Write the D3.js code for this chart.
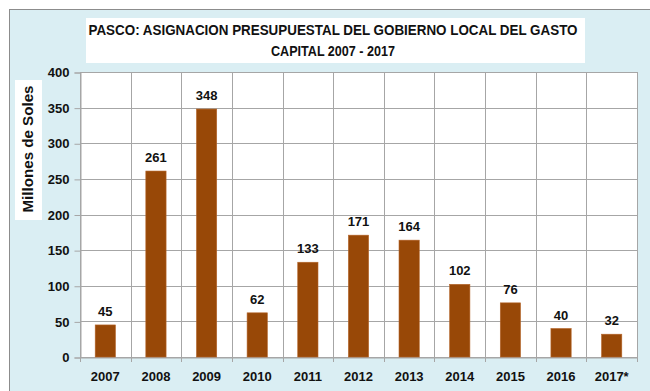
<!DOCTYPE html>
<html><head><meta charset="utf-8">
<script src="https://cdn.jsdelivr.net/npm/d3@7"></script>
<style>
html,body{margin:0;padding:0;background:#fff;}
svg{display:block;}
text{font-family:"Liberation Sans",Arial,sans-serif;font-weight:bold;fill:#111;}
</style></head>
<body>
<svg id="chart" width="650" height="391"></svg>
<script>
const years = ["2007","2008","2009","2010","2011","2012","2013","2014","2015","2016","2017*"];
const values = [45, 261, 348, 62, 133, 171, 164, 102, 76, 40, 32];
const yTicks = [0, 50, 100, 150, 200, 250, 300, 350, 400];
const titleLines = ["PASCO: ASIGNACION PRESUPUESTAL DEL GOBIERNO LOCAL DEL GASTO", "CAPITAL 2007 - 2017"];
const titleWidths = [489, 124];
const yTitle = "Millones de Soles";

const svg = d3.select("#chart");
const W = 650, H = 391;
const plot = {left: 80, top: 72, right: 637, bottom: 357};
const font = "Liberation Sans, Arial, sans-serif";

// panel background
svg.append("rect").attr("x", 9.5).attr("y", 9.5).attr("width", W).attr("height", H)
  .attr("fill", "#DAEEF3").attr("stroke", "#8C8C8C").attr("stroke-width", 1);

// title box (condensed to the box width)
svg.append("rect").attr("x", 86).attr("y", 18).attr("width", 499).attr("height", 45).attr("fill", "#fff");
svg.append("g").selectAll("text").data(titleLines).join("text")
  .attr("x", 333).attr("y", (d, i) => 35 + i * 21)
  .attr("text-anchor", "middle").attr("font-size", 14)
  .attr("textLength", (d, i) => titleWidths[i]).attr("lengthAdjust", "spacingAndGlyphs")
  .text(d => d);

const x = d3.scaleBand().domain(years).range([plot.left, plot.right]).paddingInner(0.6).paddingOuter(0.3);
const xCat = d3.scaleBand().domain(years).range([plot.left, plot.right]);
const y = d3.scaleLinear().domain([0, 400]).range([plot.bottom, plot.top]);

// plot area
svg.append("rect").attr("x", plot.left).attr("y", plot.top)
  .attr("width", plot.right - plot.left).attr("height", plot.bottom - plot.top).attr("fill", "#fff");

// horizontal gridlines
svg.append("g").selectAll("line").data(yTicks).join("line")
  .attr("x1", plot.left).attr("x2", plot.right)
  .attr("y1", d => Math.round(y(d)) + 0.5).attr("y2", d => Math.round(y(d)) + 0.5)
  .attr("stroke", "#A6A6A6").attr("stroke-width", 1);

// vertical gridlines at category boundaries
const bounds = years.map(d => xCat(d)).concat([plot.right]);
svg.append("g").selectAll("line").data(bounds).join("line")
  .attr("x1", d => Math.round(d) + 0.5).attr("x2", d => Math.round(d) + 0.5)
  .attr("y1", plot.top).attr("y2", plot.bottom + 5)
  .attr("stroke", "#A6A6A6").attr("stroke-width", 1);

// y axis
const yAxis = d3.axisLeft(y).tickValues(yTicks).tickSize(6).tickPadding(5);
const gy = svg.append("g").attr("transform", `translate(${plot.left + 0.5},0.5)`).call(yAxis);
gy.selectAll("path,line").attr("stroke", "#A6A6A6");
gy.selectAll("text").attr("font-size", 13).attr("font-family", font).attr("fill", "#111");

// x axis labels
const gx = svg.append("g").attr("transform", `translate(0,${plot.bottom + 0.5})`)
  .call(d3.axisBottom(xCat).tickSize(0).tickPadding(14));
gx.select(".domain").attr("stroke", "#A6A6A6");
gx.selectAll("text").attr("font-size", 13).attr("font-family", font).attr("fill", "#111");

// bars
svg.append("g").selectAll("rect").data(values).join("rect")
  .attr("x", (d, i) => x(years[i])).attr("width", x.bandwidth())
  .attr("y", d => y(d)).attr("height", d => y(0) - y(d))
  .attr("fill", "#984807").attr("stroke", "#B5652A").attr("stroke-width", 0.6);

// value labels
svg.append("g").selectAll("text").data(values).join("text")
  .attr("x", (d, i) => x(years[i]) + x.bandwidth() / 2)
  .attr("y", d => y(d) - 9).attr("text-anchor", "middle").attr("font-size", 13)
  .text(d => d);

// y axis title
svg.append("rect").attr("x", 15).attr("y", 80).attr("width", 27).attr("height", 140).attr("fill", "#fff");
svg.append("text").attr("transform", "translate(33,149) rotate(-90)")
  .attr("text-anchor", "middle").attr("font-size", 14)
  .attr("textLength", 127).attr("lengthAdjust", "spacingAndGlyphs")
  .text(yTitle);
</script>
</body></html>
